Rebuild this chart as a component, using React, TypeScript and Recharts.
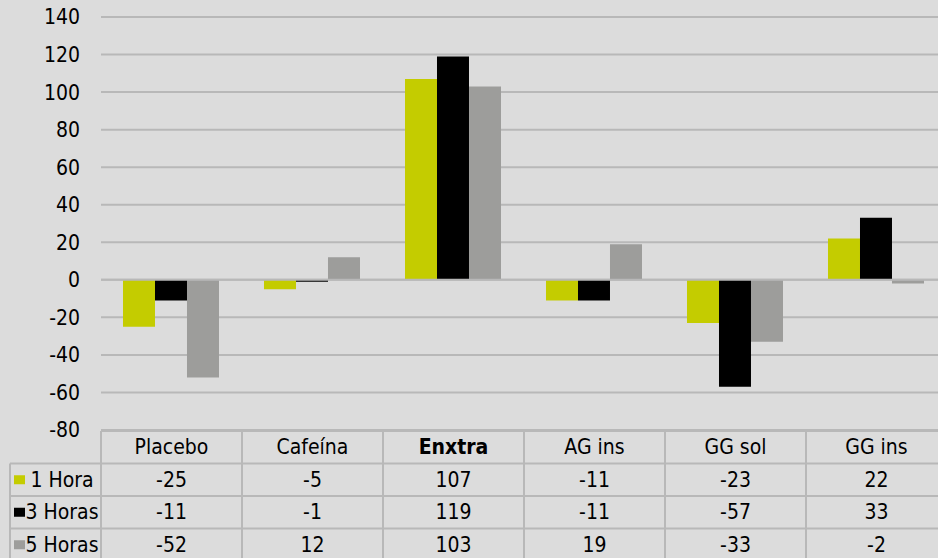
import React from 'react';
import { BarChart, Bar, XAxis, YAxis, CartesianGrid, ReferenceLine } from 'recharts';

const categories = ['Placebo', 'Cafeína', 'Enxtra', 'AG ins', 'GG sol', 'GG ins'];
const hora1 = [-25, -5, 107, -11, -23, 22];
const hora3 = [-11, -1, 119, -11, -57, 33];
const hora5 = [-52, 12, 103, 19, -33, -2];
const seriesNames = ['1 Hora', '3 Horas', '5 Horas'];
const yTicks = [-80, -60, -40, -20, 0, 20, 40, 60, 80, 100, 120, 140];

const colors = ['#c4cc00', '#000000', '#9d9d9b'];
const series = [hora1, hora3, hora5];

const data = categories.map((name, i) => ({
  name,
  h1: hora1[i],
  h3: hora3[i],
  h5: hora5[i],
}));

const FONT = "'Liberation Sans Narrow', 'DejaVu Sans Condensed', 'Arial Narrow', sans-serif";
const LINE = '#b8b8b8';
const PLOT_LEFT = 101;
const CHART_W = 947;
const BAND = (CHART_W - PLOT_LEFT) / categories.length;
const ROW = 32.5;

const TableTick = (props: any) => {
  const { x, y, payload, index } = props;
  const i = categories.indexOf(payload.value);
  const top = y + 1;
  const left = x - BAND / 2;
  const bottom = top + ROW * 4 + 10;
  return (
    <g fontFamily={FONT} fontSize={21} fill="#000">
      <line x1={left} x2={left} y1={top} y2={bottom} stroke={LINE} strokeWidth={2} />
      {[0, 1, 2, 3].map((r) => (
        <line key={r} x1={left} x2={left + BAND} y1={top + r * ROW} y2={top + r * ROW} stroke={LINE} strokeWidth={2} />
      ))}
      <text
        x={x}
        y={top + ROW / 2}
        textAnchor="middle"
        dominantBaseline="central"
        fontWeight={payload.value === 'Enxtra' ? 'bold' : 'normal'}
      >
        {payload.value}
      </text>
      {series.map((s, r) => (
        <text key={r} x={x} y={top + ROW * (r + 1.5)} textAnchor="middle" dominantBaseline="central">
          {s[i]}
        </text>
      ))}
      {index === 0 && (
        <g>
          <line x1={10} x2={10} y1={top + ROW} y2={bottom} stroke={LINE} strokeWidth={2} />
          {[1, 2, 3].map((r) => (
            <line key={r} x1={10} x2={left} y1={top + r * ROW} y2={top + r * ROW} stroke={LINE} strokeWidth={2} />
          ))}
          {seriesNames.map((n, r) => (
            <g key={n}>
              <rect x={14} y={top + ROW * (r + 1.5) - 4.5} width={11} height={9} fill={colors[r]} />
              <text x={62} y={top + ROW * (r + 1.5)} textAnchor="middle" dominantBaseline="central">
                {n}
              </text>
            </g>
          ))}
        </g>
      )}
    </g>
  );
};

export default function App() {
  return (
    <div style={{ position: 'absolute', left: 0, top: 0, width: 938, height: 558, overflow: 'hidden', background: '#dcdcdc' }}>
      <BarChart
        width={CHART_W}
        height={558}
        data={data}
        margin={{ top: 17, right: 0, left: 0, bottom: 0 }}
        barCategoryGap="15.6%"
        barGap={0}
      >
        <CartesianGrid vertical={false} stroke={LINE} strokeWidth={2} />
        <YAxis
          width={PLOT_LEFT}
          domain={[-80, 140]}
          ticks={yTicks}
          interval={0}
          axisLine={false}
          tickLine={false}
          tickSize={0}
          tickMargin={21}
          tick={{ fontFamily: FONT, fontSize: 21, fill: '#000' }}
        />
        <XAxis
          dataKey="name"
          height={128}
          axisLine={false}
          tickLine={false}
          tickSize={0}
          tickMargin={0}
          interval={0}
          tick={<TableTick />}
        />
        <Bar dataKey="h1" name={seriesNames[0]} fill={colors[0]} isAnimationActive={false} />
        <Bar dataKey="h3" name={seriesNames[1]} fill={colors[1]} isAnimationActive={false} />
        <Bar dataKey="h5" name={seriesNames[2]} fill={colors[2]} isAnimationActive={false} />
        <ReferenceLine y={0} stroke={LINE} strokeWidth={2} />
      </BarChart>
    </div>
  );
}
